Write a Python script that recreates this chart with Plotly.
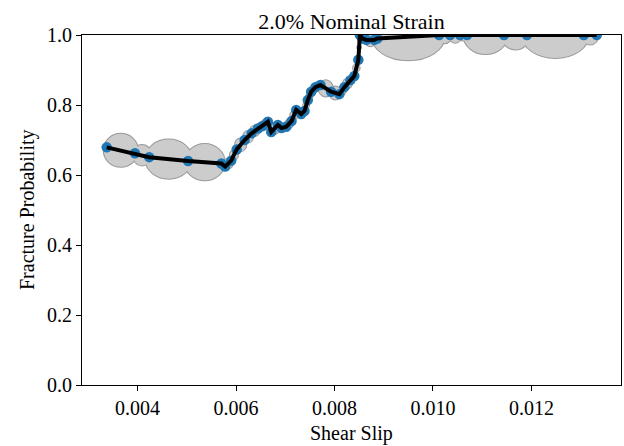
import numpy as np
import plotly.graph_objects as go

# Data
shear_slip = [
    0.003372, 0.003945, 0.004235, 0.005025, 0.005702, 0.005779, 0.005901, 0.006012,
    0.006174, 0.006316, 0.006444, 0.006539, 0.006646, 0.006715, 0.006849, 0.006924,
    0.007019, 0.007127, 0.007222, 0.007323, 0.007390, 0.007457, 0.007526, 0.007613,
    0.007714, 0.007931, 0.008099, 0.008201, 0.008322, 0.008403, 0.008484, 0.008515,
    0.008565, 0.008646, 0.008808, 0.008869, 0.010126, 0.010348, 0.010551, 0.010693,
    0.011443, 0.011909, 0.013064, 0.013327,
]
fracture_prob = [
    0.679, 0.662, 0.651, 0.640, 0.633, 0.624, 0.641, 0.673,
    0.700, 0.719, 0.733, 0.740, 0.752, 0.723, 0.743, 0.734,
    0.738, 0.754, 0.786, 0.774, 0.783, 0.814, 0.838, 0.851,
    0.857, 0.838, 0.831, 0.851, 0.871, 0.883, 0.929, 1.000,
    0.990, 0.986, 0.986, 0.990, 1.000, 1.000, 1.000, 1.000,
    1.000, 1.000, 1.000, 1.000,
]

x_ticks = [0.004, 0.006, 0.008, 0.010, 0.012]
y_ticks = [0.0, 0.2, 0.4, 0.6, 0.8, 1.0]

W, H = 624, 446
ML, MR, MT, MB = 82, 3, 35, 61
x_range = [0.00287, 0.01382]
y_range = [0.0, 1.0]
px_per_x = (W - ML - MR) / (x_range[1] - x_range[0])
px_per_y = (H - MT - MB) / (y_range[1] - y_range[0])

# uncertainty band: bulges between neighbouring samples
shapes = []
for p in (0, 1):
    for i in range(len(shear_slip) - 1):
        xa, xb = shear_slip[i], shear_slip[i + 1]
        gap = xb - xa
        gap_px = gap * px_per_x
        h = 27 * (1 - np.exp(-gap_px / 30)) / px_per_y
        ym = (fracture_prob[i] + fracture_prob[i + 1]) / 2
        ext = 0.07 * gap + 1.0 / px_per_x
        shapes.append(dict(
            type="circle", xref="x", yref="y",
            x0=xa - ext, x1=xb + ext, y0=ym - h, y1=ym + h,
            fillcolor="#cccccc",
            line=dict(color="#9a9a9a" if p == 0 else "rgba(0,0,0,0)",
                      width=2 if p == 0 else 0),
            layer="below",
        ))

fig = go.Figure()
fig.add_trace(go.Scatter(
    x=shear_slip, y=fracture_prob, mode="markers",
    marker=dict(color="#1f77b4", size=10.5, line=dict(width=0)),
    showlegend=False, hoverinfo="skip",
))
fig.add_trace(go.Scatter(
    x=shear_slip, y=fracture_prob, mode="lines",
    line=dict(color="black", width=4),
    showlegend=False,
))

serif = "Liberation Serif"
font = dict(family=serif, size=20, color="black")
fig.update_layout(
    width=W, height=H,
    margin=dict(l=ML, r=MR, t=MT, b=MB, autoexpand=False),
    paper_bgcolor="white", plot_bgcolor="white",
    font=font,
    shapes=shapes,
    title=dict(text="2.0% Nominal Strain", x=0.5, xref="paper", xanchor="center",
               y=1, yref="paper", yanchor="bottom", pad=dict(b=6),
               font=dict(family=serif, size=22, color="black")),
    annotations=[
        dict(text="Shear Slip", xref="paper", yref="paper", x=0.5, y=0,
             xanchor="center", yanchor="middle", yshift=-48, showarrow=False,
             font=dict(family=serif, size=20, color="black")),
        dict(text="Fracture Probability", xref="paper", yref="paper", x=0, y=0.5,
             xanchor="center", yanchor="middle", xshift=-55, textangle=-90,
             showarrow=False, font=dict(family=serif, size=20, color="black")),
    ],
)
fig.update_xaxes(
    range=x_range, tickvals=x_ticks, tickformat=".3f", automargin=False,
    showgrid=False, zeroline=False,
    showline=True, linecolor="black", linewidth=1, mirror=True,
    ticks="outside", ticklen=5, tickcolor="black",
    tickfont=dict(family=serif, size=20, color="black"),
)
fig.update_yaxes(
    range=y_range, tickvals=y_ticks, tickformat=".1f", automargin=False,
    showgrid=False, zeroline=False,
    showline=True, linecolor="black", linewidth=1, mirror=True,
    ticks="outside", ticklen=5, tickcolor="black",
    tickfont=dict(family=serif, size=20, color="black"),
)

fig.write_html("out.html",
               config={"displayModeBar": False},
               post_script="document.body.style.margin='0';document.body.style.overflow='hidden';")
